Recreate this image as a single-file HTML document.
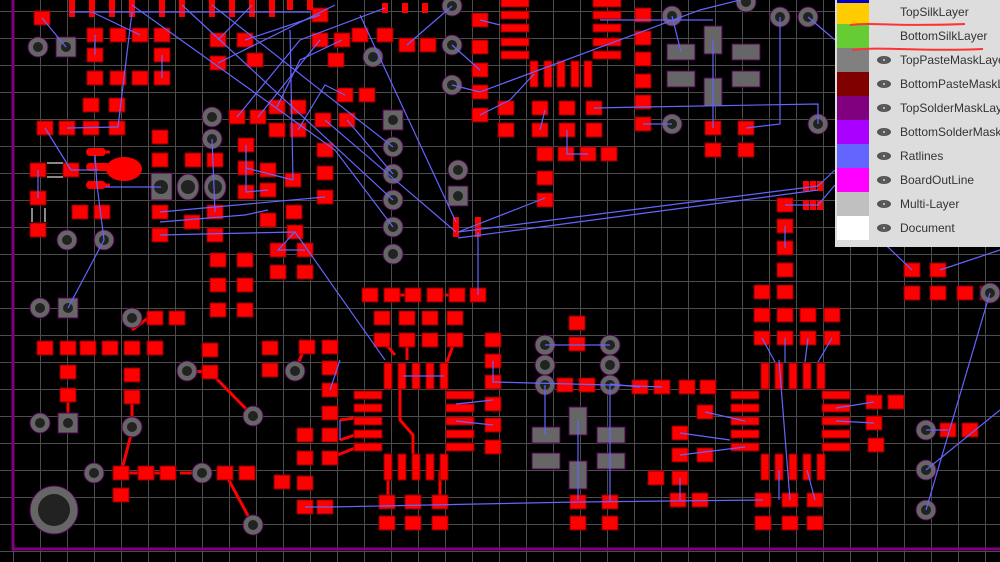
<!DOCTYPE html>
<html><head><meta charset="utf-8"><style>
html,body{margin:0;padding:0;background:#000;width:1000px;height:562px;overflow:hidden}
#bg{position:absolute;left:0;top:0;width:1000px;height:562px;
background-image:linear-gradient(90deg,#4c4c4c 1px,transparent 1px),linear-gradient(0deg,transparent 26px,#4c4c4c 26px);
background-size:27px 27px,27px 27px;background-position:13px 0,0 11px}
svg{position:absolute;left:0;top:0}
#leg{position:absolute;left:835px;top:0;width:165px;height:247px;background:#ddd;font-family:"Liberation Sans",sans-serif;font-size:12px;color:#333}
.r{position:absolute;left:0;height:24px;width:165px}
.sw{position:absolute;left:2px;top:0;width:32px;height:24px}
.t{position:absolute;left:65px;top:5px;white-space:nowrap}
.e{position:absolute;left:42px;top:8px;width:14px;height:8px;border-radius:50%;background:#555}
.e:after{content:"";position:absolute;left:4px;top:1px;width:6px;height:6px;border-radius:50%;background:#ddd;box-shadow:inset 0 0 0 2px #555}
</style></head><body>
<div id="bg"></div>
<svg width="1000" height="562" viewBox="0 0 1000 562">
<defs>
<rect id="p" x="-8" y="-7" width="16" height="14" fill="#f00" stroke="#800" stroke-width="1"/>
<rect id="w" x="-14" y="-4" width="28" height="8" fill="#f00" stroke="#800"/>
<rect id="t" x="-4" y="-13" width="8" height="26" fill="#f00" stroke="#800"/>
<rect id="s" x="-3" y="-5" width="6" height="10" fill="#f00"/>
<g id="h"><circle r="10" fill="#666" stroke="#505" stroke-width="1"/><circle r="5" fill="#222"/></g>
<g id="hs"><rect x="-10" y="-10" width="20" height="20" fill="#666" stroke="#505"/><circle r="5" fill="#222"/></g>
<rect id="g" x="-14" y="-8" width="28" height="16" fill="#666" stroke="#505"/>
<rect id="gv" x="-9" y="-14" width="18" height="28" fill="#666" stroke="#505"/>
</defs>
<!-- board outline -->
<path d="M13,0 V549 H1000" fill="none" stroke="#800080" stroke-width="3"/>
<!-- red traces -->
<g stroke="#f00" stroke-width="3" fill="none">
<path d="M132,397 V427"/><path d="M121,473 L133,427"/><path d="M121,473 H160"/><path d="M180,473 H202"/><path d="M225,473 L253,525"/>
<path d="M187,371 L210,372"/><path d="M210,372 L253,416"/><path d="M295,371 L305,347"/><path d="M68,423 V395"/>
<path d="M148,318 L132,330"/><path d="M400,385 V420 L413,435 V470"/><path d="M382,340 L395,355"/><path d="M407,340 V360"/><path d="M455,340 L444,370"/>
<path d="M340,420 L355,418"/><path d="M340,440 L355,435"/><path d="M330,458 L355,448"/><path d="M388,470 V500"/><path d="M440,470 V500"/>
<path d="M395,295 H407"/><path d="M445,295 H457"/><path d="M92,152 H110"/><path d="M92,185 H110"/>
</g>
<!-- pads -->
<g>
<use href="#p" x="42" y="18"/><use href="#p" x="95" y="35"/><use href="#p" x="118" y="35"/><use href="#p" x="140" y="35"/><use href="#p" x="162" y="35"/>
<use href="#p" x="95" y="55"/><use href="#p" x="162" y="55"/><use href="#p" x="95" y="78"/><use href="#p" x="118" y="78"/><use href="#p" x="140" y="78"/><use href="#p" x="162" y="78"/>
<use href="#p" x="91" y="105"/><use href="#p" x="117" y="105"/><use href="#p" x="45" y="128"/><use href="#p" x="67" y="128"/><use href="#p" x="91" y="128"/><use href="#p" x="117" y="128"/>
<use href="#p" x="38" y="170"/><use href="#p" x="71" y="170"/><use href="#p" x="38" y="198"/><use href="#p" x="38" y="230"/><use href="#p" x="80" y="212"/><use href="#p" x="102" y="212"/>
<rect x="86" y="148" width="20" height="8" rx="4" fill="#f00"/><rect x="86" y="163" width="24" height="8" rx="4" fill="#f00"/><rect x="86" y="181" width="20" height="8" rx="4" fill="#f00"/>
<ellipse cx="124" cy="169" rx="18" ry="12" fill="#f00"/>
<rect x="47" y="162" width="16" height="2" fill="#888"/><rect x="47" y="176" width="16" height="2" fill="#888"/><rect x="31" y="208" width="2" height="14" fill="#888"/><rect x="44" y="208" width="2" height="14" fill="#888"/>
<use href="#p" x="160" y="137"/><use href="#p" x="160" y="160"/><use href="#p" x="193" y="160"/><use href="#p" x="215" y="160"/>
<use href="#p" x="160" y="212"/><use href="#p" x="160" y="235"/><use href="#p" x="215" y="212"/><use href="#p" x="215" y="235"/><use href="#p" x="192" y="222"/>
<use href="#p" x="218" y="40"/><use href="#p" x="218" y="63"/><use href="#p" x="245" y="40"/><use href="#p" x="255" y="60"/>
<use href="#p" x="320" y="15"/><use href="#p" x="320" y="40"/><use href="#p" x="342" y="40"/><use href="#p" x="360" y="35"/><use href="#p" x="385" y="35"/><use href="#p" x="407" y="45"/><use href="#p" x="428" y="45"/>
<use href="#p" x="336" y="60"/><use href="#p" x="345" y="95"/><use href="#p" x="367" y="95"/><use href="#p" x="277" y="107"/><use href="#p" x="298" y="107"/><use href="#p" x="277" y="130"/><use href="#p" x="298" y="130"/>
<use href="#p" x="237" y="117"/><use href="#p" x="258" y="117"/><use href="#p" x="323" y="120"/><use href="#p" x="347" y="120"/>
<use href="#p" x="246" y="145"/><use href="#p" x="246" y="168"/><use href="#p" x="246" y="192"/><use href="#p" x="268" y="170"/><use href="#p" x="268" y="190"/><use href="#p" x="293" y="180"/><use href="#p" x="268" y="220"/>
<use href="#p" x="294" y="212"/><use href="#p" x="295" y="232"/><use href="#p" x="278" y="250"/><use href="#p" x="305" y="250"/><use href="#p" x="278" y="272"/><use href="#p" x="305" y="272"/>
<use href="#p" x="325" y="173"/><use href="#p" x="325" y="197"/><use href="#p" x="325" y="150"/>
<use href="#p" x="218" y="260"/><use href="#p" x="245" y="260"/><use href="#p" x="218" y="285"/><use href="#p" x="245" y="285"/><use href="#p" x="218" y="310"/><use href="#p" x="245" y="310"/>
<use href="#p" x="45" y="348"/><use href="#p" x="68" y="348"/><use href="#p" x="88" y="348"/><use href="#p" x="110" y="348"/><use href="#p" x="132" y="348"/><use href="#p" x="155" y="348"/>
<use href="#p" x="132" y="375"/><use href="#p" x="132" y="397"/><use href="#p" x="155" y="318"/><use href="#p" x="177" y="318"/><use href="#p" x="68" y="372"/><use href="#p" x="68" y="395"/>
<use href="#p" x="210" y="350"/><use href="#p" x="210" y="372"/><use href="#p" x="270" y="348"/><use href="#p" x="270" y="370"/><use href="#p" x="307" y="347"/><use href="#p" x="330" y="347"/>
<use href="#p" x="121" y="473"/><use href="#p" x="146" y="473"/><use href="#p" x="168" y="473"/><use href="#p" x="225" y="473"/><use href="#p" x="247" y="473"/><use href="#p" x="121" y="495"/><use href="#p" x="282" y="482"/>
<!-- top row small -->
<use href="#s" x="72" y="5"/><use href="#s" x="92" y="5"/><use href="#s" x="112" y="5"/><use href="#s" x="132" y="5"/><use href="#s" x="162" y="5"/><use href="#s" x="182" y="5"/><use href="#s" x="212" y="5"/><use href="#s" x="232" y="5"/><use href="#s" x="252" y="5"/><use href="#s" x="272" y="5"/><use href="#s" x="290" y="5"/><use href="#s" x="310" y="5"/>
<use href="#s" x="72" y="12"/><use href="#s" x="92" y="12"/><use href="#s" x="112" y="12"/><use href="#s" x="132" y="12"/><use href="#s" x="162" y="12"/><use href="#s" x="182" y="12"/><use href="#s" x="212" y="12"/><use href="#s" x="232" y="12"/><use href="#s" x="252" y="12"/><use href="#s" x="272" y="12"/>
<use href="#s" x="385" y="8"/><use href="#s" x="405" y="8"/><use href="#s" x="425" y="8"/>
<!-- center IC -->
<use href="#p" x="370" y="295"/><use href="#p" x="392" y="295"/><use href="#p" x="413" y="295"/><use href="#p" x="435" y="295"/><use href="#p" x="457" y="295"/><use href="#p" x="478" y="295"/>
<use href="#p" x="382" y="318"/><use href="#p" x="407" y="318"/><use href="#p" x="430" y="318"/><use href="#p" x="455" y="318"/><use href="#p" x="382" y="340"/><use href="#p" x="407" y="340"/><use href="#p" x="430" y="340"/><use href="#p" x="455" y="340"/>
<use href="#t" x="388" y="376"/><use href="#t" x="402" y="376"/><use href="#t" x="416" y="376"/><use href="#t" x="430" y="376"/><use href="#t" x="444" y="376"/>
<use href="#w" x="368" y="395"/><use href="#w" x="368" y="408"/><use href="#w" x="368" y="421"/><use href="#w" x="368" y="434"/><use href="#w" x="368" y="447"/>
<use href="#w" x="460" y="395"/><use href="#w" x="460" y="408"/><use href="#w" x="460" y="421"/><use href="#w" x="460" y="434"/><use href="#w" x="460" y="447"/>
<use href="#t" x="388" y="467"/><use href="#t" x="402" y="467"/><use href="#t" x="416" y="467"/><use href="#t" x="430" y="467"/><use href="#t" x="444" y="467"/>
<use href="#p" x="387" y="502"/><use href="#p" x="413" y="502"/><use href="#p" x="440" y="502"/><use href="#p" x="387" y="523"/><use href="#p" x="413" y="523"/><use href="#p" x="440" y="523"/>
<use href="#p" x="330" y="368"/><use href="#p" x="330" y="390"/><use href="#p" x="330" y="413"/><use href="#p" x="330" y="435"/><use href="#p" x="330" y="458"/><use href="#p" x="305" y="435"/><use href="#p" x="305" y="458"/><use href="#p" x="305" y="483"/><use href="#p" x="305" y="507"/><use href="#p" x="325" y="507"/>
<use href="#p" x="493" y="340"/><use href="#p" x="493" y="361"/><use href="#p" x="493" y="382"/><use href="#p" x="493" y="404"/><use href="#p" x="493" y="425"/><use href="#p" x="493" y="447"/>
<use href="#p" x="577" y="323"/><use href="#p" x="577" y="344"/><use href="#p" x="565" y="385"/><use href="#p" x="587" y="385"/><use href="#p" x="640" y="387"/><use href="#p" x="662" y="387"/><use href="#p" x="687" y="387"/><use href="#p" x="708" y="387"/>
<use href="#p" x="578" y="502"/><use href="#p" x="578" y="523"/><use href="#p" x="610" y="502"/><use href="#p" x="610" y="523"/>
<use href="#p" x="680" y="433"/><use href="#p" x="680" y="455"/><use href="#p" x="680" y="478"/><use href="#p" x="705" y="412"/><use href="#p" x="705" y="455"/><use href="#p" x="700" y="500"/><use href="#p" x="678" y="500"/><use href="#p" x="656" y="478"/>
<!-- right IC -->
<use href="#t" x="765" y="376"/><use href="#t" x="779" y="376"/><use href="#t" x="793" y="376"/><use href="#t" x="807" y="376"/><use href="#t" x="821" y="376"/>
<use href="#w" x="745" y="395"/><use href="#w" x="745" y="408"/><use href="#w" x="745" y="421"/><use href="#w" x="745" y="434"/><use href="#w" x="745" y="447"/>
<use href="#w" x="836" y="395"/><use href="#w" x="836" y="408"/><use href="#w" x="836" y="421"/><use href="#w" x="836" y="434"/><use href="#w" x="836" y="447"/>
<use href="#t" x="765" y="467"/><use href="#t" x="779" y="467"/><use href="#t" x="793" y="467"/><use href="#t" x="807" y="467"/><use href="#t" x="821" y="467"/>
<use href="#p" x="763" y="500"/><use href="#p" x="790" y="500"/><use href="#p" x="815" y="500"/><use href="#p" x="763" y="523"/><use href="#p" x="790" y="523"/><use href="#p" x="815" y="523"/>
<use href="#p" x="762" y="292"/><use href="#p" x="785" y="292"/><use href="#p" x="762" y="315"/><use href="#p" x="785" y="315"/><use href="#p" x="808" y="315"/><use href="#p" x="832" y="315"/><use href="#p" x="762" y="338"/><use href="#p" x="785" y="338"/><use href="#p" x="808" y="338"/><use href="#p" x="832" y="338"/>
<use href="#p" x="785" y="205"/><use href="#p" x="785" y="226"/><use href="#p" x="785" y="248"/><use href="#p" x="785" y="270"/>
<use href="#s" x="806" y="186"/><use href="#s" x="813" y="186"/><use href="#s" x="820" y="186"/><use href="#s" x="806" y="205"/><use href="#s" x="813" y="205"/><use href="#s" x="820" y="205"/>
<use href="#p" x="874" y="402"/><use href="#p" x="896" y="402"/><use href="#p" x="874" y="423"/><use href="#p" x="876" y="445"/><use href="#p" x="948" y="430"/><use href="#p" x="970" y="430"/>
<use href="#p" x="912" y="270"/><use href="#p" x="938" y="270"/><use href="#p" x="912" y="293"/><use href="#p" x="938" y="293"/><use href="#p" x="965" y="293"/><use href="#p" x="988" y="293"/>
<!-- top middle/right -->
<use href="#p" x="480" y="20"/><use href="#p" x="480" y="47"/><use href="#p" x="480" y="70"/><use href="#p" x="480" y="92"/><use href="#p" x="480" y="115"/>
<use href="#w" x="515" y="3"/><use href="#w" x="515" y="15"/><use href="#w" x="515" y="28"/><use href="#w" x="515" y="42"/><use href="#w" x="515" y="55"/>
<use href="#w" x="607" y="3"/><use href="#w" x="607" y="15"/><use href="#w" x="607" y="28"/><use href="#w" x="607" y="42"/><use href="#w" x="607" y="55"/>
<use href="#t" x="534" y="74"/><use href="#t" x="548" y="74"/><use href="#t" x="561" y="74"/><use href="#t" x="575" y="74"/><use href="#t" x="588" y="74"/>
<use href="#p" x="506" y="108"/><use href="#p" x="540" y="108"/><use href="#p" x="567" y="108"/><use href="#p" x="594" y="108"/><use href="#p" x="506" y="130"/><use href="#p" x="540" y="130"/><use href="#p" x="567" y="130"/><use href="#p" x="594" y="130"/>
<use href="#p" x="545" y="154"/><use href="#p" x="566" y="154"/><use href="#p" x="588" y="154"/><use href="#p" x="609" y="154"/><use href="#p" x="545" y="178"/><use href="#p" x="545" y="200"/>
<use href="#p" x="643" y="15"/><use href="#p" x="643" y="38"/><use href="#p" x="643" y="59"/><use href="#p" x="643" y="81"/><use href="#p" x="643" y="102"/><use href="#p" x="643" y="124"/>
<use href="#p" x="713" y="128"/><use href="#p" x="746" y="128"/><use href="#p" x="713" y="150"/><use href="#p" x="746" y="150"/>
<use href="#s" x="456" y="222"/><use href="#s" x="456" y="232"/><use href="#s" x="478" y="222"/><use href="#s" x="478" y="232"/>
</g>
<!-- gray pads -->
<use href="#g" x="681" y="52"/><use href="#g" x="681" y="79"/><use href="#gv" x="713" y="40"/><use href="#gv" x="713" y="92"/><use href="#g" x="746" y="52"/><use href="#g" x="746" y="79"/>
<use href="#g" x="546" y="435"/><use href="#g" x="546" y="461"/><use href="#gv" x="578" y="421"/><use href="#gv" x="578" y="475"/><use href="#g" x="611" y="435"/><use href="#g" x="611" y="461"/>
<!-- holes -->
<g>
<use href="#h" x="38" y="47"/><use href="#hs" x="66" y="47"/><use href="#h" x="67" y="240"/><use href="#h" x="104" y="240"/>
<use href="#h" x="40" y="308"/><use href="#hs" x="68" y="308"/><use href="#h" x="40" y="423"/><use href="#hs" x="68" y="423"/>
<use href="#h" x="132" y="318"/><use href="#h" x="132" y="427"/><use href="#h" x="187" y="371"/><use href="#h" x="253" y="416"/><use href="#h" x="295" y="371"/>
<use href="#h" x="94" y="473"/><use href="#h" x="202" y="473"/><use href="#h" x="253" y="525"/>
<circle cx="54" cy="510" r="24" fill="#666" stroke="#505"/><circle cx="54" cy="510" r="16" fill="#222"/>
<rect x="151" y="173" width="21" height="27" fill="#666" stroke="#505"/><circle cx="161" cy="187" r="7" fill="#222"/>
<ellipse cx="188" cy="187" rx="11" ry="13" fill="#666" stroke="#505"/><circle cx="188" cy="187" r="7" fill="#222"/>
<ellipse cx="215" cy="187" rx="11" ry="13" fill="#666" stroke="#505"/><circle cx="215" cy="187" r="7" fill="#222"/>
<g transform="scale(1)"><use href="#h" x="212" y="117" transform="translate(0,0)"/><use href="#h" x="212" y="139"/></g>
<use href="#h" x="373" y="57"/><use href="#hs" x="393" y="120"/><use href="#h" x="393" y="147"/><use href="#h" x="393" y="174"/><use href="#h" x="393" y="200"/><use href="#h" x="393" y="227"/><use href="#h" x="393" y="254"/>
<use href="#h" x="452" y="6"/><use href="#h" x="452" y="45"/><use href="#h" x="452" y="85"/><use href="#h" x="458" y="170"/><use href="#hs" x="458" y="196"/>
<use href="#h" x="672" y="16"/><use href="#h" x="672" y="124"/><use href="#h" x="780" y="17"/><use href="#h" x="808" y="17"/><use href="#h" x="746" y="2"/><use href="#h" x="818" y="124"/>
<use href="#h" x="545" y="345"/><use href="#h" x="545" y="365"/><use href="#h" x="545" y="385"/><use href="#h" x="610" y="345"/><use href="#h" x="610" y="365"/><use href="#h" x="610" y="385"/>
<use href="#h" x="926" y="430"/><use href="#h" x="926" y="470"/><use href="#h" x="926" y="510"/><use href="#h" x="990" y="293"/>
</g>
<!-- ratlines -->
<g stroke="#6464ff" stroke-width="1.2" fill="none">
<path d="M42,18 L66,47"/><path d="M45,128 L71,170"/><path d="M38,170 V198"/><path d="M104,240 L68,308"/><path d="M95,155 L97,185 L104,240"/>
<path d="M67,128 L118,127 L132,12"/><path d="M95,35 V55"/><path d="M162,55 V78"/><path d="M92,12 L140,35"/>
<path d="M70,12 H310"/><path d="M161,187 H105"/><path d="M71,170 H98"/>
<path d="M160,212 L325,197"/><path d="M160,235 L295,232"/><path d="M160,222 L245,215 L268,210"/>
<path d="M212,139 L215,212"/><path d="M246,145 V192 L268,190"/><path d="M246,168 L293,180"/>
<path d="M218,40 L252,5"/><path d="M245,40 L320,15"/><path d="M218,63 L335,5"/><path d="M237,117 L300,40 L385,8"/><path d="M258,117 L320,40"/>
<path d="M277,107 L300,60 L342,40"/><path d="M293,180 L290,30"/><path d="M298,130 L325,85 L345,95"/>
<path d="M212,5 L393,147"/><path d="M182,5 L393,200"/><path d="M132,5 L335,150 L393,227"/><path d="M305,250 L278,250 L295,232 L385,360"/>
<path d="M347,120 L393,174"/><path d="M325,120 L456,232"/><path d="M360,15 L456,222"/>
<path d="M407,45 L452,6"/><path d="M452,85 L480,92"/><path d="M480,70 L452,45"/>
<path d="M478,232 L478,295"/><path d="M458,232 L545,198"/><path d="M458,232 L818,186"/><path d="M458,238 L818,190"/>
<path d="M480,115 L510,100 L534,74"/><path d="M480,92 L700,10 L740,0"/><path d="M545,110 L540,130"/><path d="M567,130 L567,154 L588,154"/>
<path d="M594,108 L643,107 L818,104 L818,124"/><path d="M643,124 L672,124"/><path d="M672,16 L681,52"/><path d="M713,40 V128"/><path d="M746,128 L780,124 L780,17"/>
<path d="M713,20 L600,20"/><path d="M480,20 L500,25"/><path d="M808,17 L835,40"/>
<path d="M785,205 L818,205 L835,185"/><path d="M785,226 V248"/><path d="M818,186 L835,170"/>
<path d="M762,338 L775,362"/><path d="M785,338 V362"/><path d="M808,338 L805,362"/><path d="M832,338 L818,362"/>
<path d="M403,376 L444,376"/><path d="M456,404 L493,400"/><path d="M456,421 L493,425"/><path d="M493,361 V382 L610,385"/>
<path d="M545,345 H610"/><path d="M545,385 V435"/><path d="M610,385 L610,461 V502"/><path d="M578,420 V500"/><path d="M610,385 L662,387"/><path d="M610,384 L640,387"/>
<path d="M330,507 L578,502 L763,500"/><path d="M305,507 L330,507"/>
<path d="M705,412 L745,421"/><path d="M680,455 L745,447"/><path d="M680,433 L730,440"/><path d="M680,478 V500"/>
<path d="M836,408 L874,402"/><path d="M836,421 L874,423"/><path d="M948,430 L926,430"/><path d="M926,470 L1000,410"/><path d="M926,510 L990,293"/>
<path d="M779,360 L790,500"/><path d="M807,470 L815,500"/><path d="M779,470 L779,500"/>
<path d="M912,270 L870,230"/><path d="M940,270 L1000,250"/>
<path d="M340,420 L340,440"/><path d="M330,390 L340,360"/>
</g>
</svg>
<div id="leg">
<div class="r" style="top:0"><div class="sw" style="background:#fc0;border-top:3px solid #00c;height:21px;top:0"></div><div class="t">TopSilkLayer</div></div>
<div class="r" style="top:24px"><div class="sw" style="background:#66cc33"></div><div class="t">BottomSilkLayer</div></div>
<div class="r" style="top:48px"><div class="sw" style="background:#808080"></div><div class="e"></div><div class="t">TopPasteMaskLayer</div></div>
<div class="r" style="top:72px"><div class="sw" style="background:#800000"></div><div class="e"></div><div class="t">BottomPasteMaskLayer</div></div>
<div class="r" style="top:96px"><div class="sw" style="background:#800080"></div><div class="e"></div><div class="t">TopSolderMaskLayer</div></div>
<div class="r" style="top:120px"><div class="sw" style="background:#aa00ff"></div><div class="e"></div><div class="t">BottomSolderMaskLayer</div></div>
<div class="r" style="top:144px"><div class="sw" style="background:#6464ff"></div><div class="e"></div><div class="t">Ratlines</div></div>
<div class="r" style="top:168px"><div class="sw" style="background:#ff00ff"></div><div class="e"></div><div class="t">BoardOutLine</div></div>
<div class="r" style="top:192px"><div class="sw" style="background:#c0c0c0"></div><div class="e"></div><div class="t">Multi-Layer</div></div>
<div class="r" style="top:216px"><div class="sw" style="background:#fff"></div><div class="e"></div><div class="t">Document</div></div>
<svg width="165" height="60" style="left:0;top:0"><path d="M15,25 C40,22 60,27 130,24" stroke="#f33" stroke-width="2" fill="none"/><path d="M17,50 C50,46 80,52 148,49" stroke="#f33" stroke-width="2" fill="none"/></svg>
</div>
</body></html>
